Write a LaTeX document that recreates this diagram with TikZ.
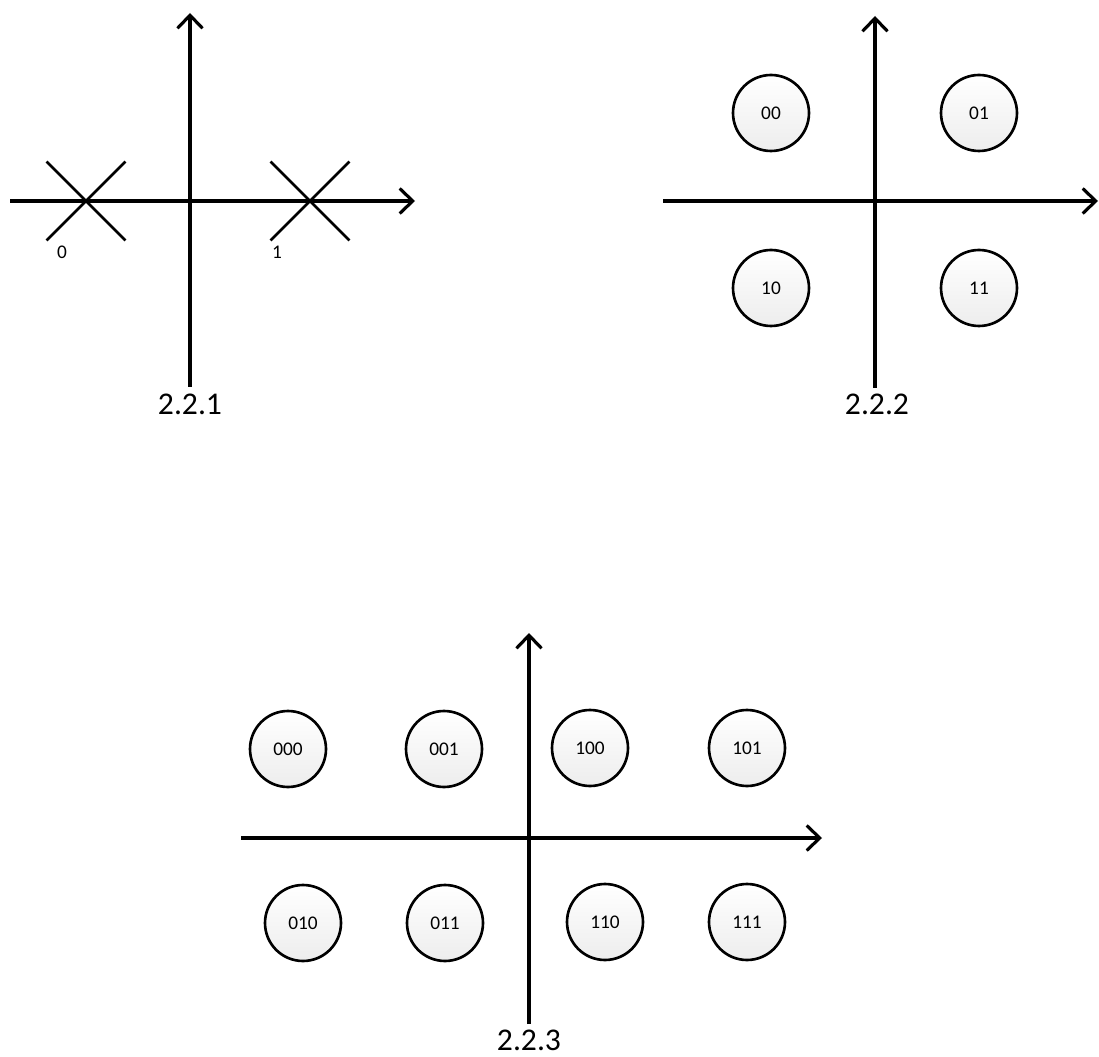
\documentclass[tikz,border=0pt]{standalone}
\usepackage{fontspec}
\setmainfont{Carlito}
\usetikzlibrary{arrows.meta,shapes.misc}

\begin{document}
\begin{tikzpicture}[
  x=0.02cm, y=-0.02cm,
  axis/.style={line width=1.8pt, -{Straight Barb[length=2.6mm, width=5mm]}},
  pt/.style={draw, circle, line width=1.5pt, minimum size=1.52cm, inner sep=0pt,
             top color=white, bottom color=black!7, font=\fontsize{11}{13}\selectfont},
  xmark/.style={draw, cross out, line width=1.6pt, minimum size=1.52cm, inner sep=0pt},
  lab/.style={font=\fontsize{11}{13}\selectfont},
  ttl/.style={font=\fontsize{18}{22}\selectfont}
]
\useasboundingbox (0,0) rectangle (1099,1057);

% Top left: 2.2.1
\coordinate (a1w) at (10,201);  \coordinate (a1e) at (415,201);
\coordinate (a1s) at (190,387); \coordinate (a1n) at (190,13);
\draw[axis] (a1w) -- (a1e);
\draw[axis] (a1s) -- (a1n);
\node[xmark] (x0) at (86,201) {};
\node[xmark] (x1) at (310,201) {};
\node[lab] (l0) at (62,252) {0};
\node[lab] (l1) at (277,252) {1};
\node[ttl] (t1) at (190,404) {2.2.1};

% Top right: 2.2.2
\coordinate (a2w) at (663,201); \coordinate (a2e) at (1098,201);
\coordinate (a2s) at (875,388); \coordinate (a2n) at (875,16);
\draw[axis] (a2w) -- (a2e);
\draw[axis] (a2s) -- (a2n);
\foreach \nm/\x/\y in {00/771/113, 01/979/113, 10/771/288, 11/979/288}
  \node[pt] (c\nm) at (\x,\y) {\nm};
\node[ttl] (t2) at (877,404) {2.2.2};

% Bottom: 2.2.3
\coordinate (a3w) at (241,838); \coordinate (a3e) at (822,838);
\coordinate (a3s) at (529,1024); \coordinate (a3n) at (529,633);
\draw[axis] (a3w) -- (a3e);
\draw[axis] (a3s) -- (a3n);
\foreach \nm/\x/\y in {000/288/749, 001/444/749, 100/590/748, 101/747/748,
                       010/303/923, 011/445/923, 110/605/922, 111/747/922}
  \node[pt] (c\nm) at (\x,\y) {\nm};
\node[ttl] (t3) at (529,1040) {2.2.3};
\end{tikzpicture}
\end{document}
